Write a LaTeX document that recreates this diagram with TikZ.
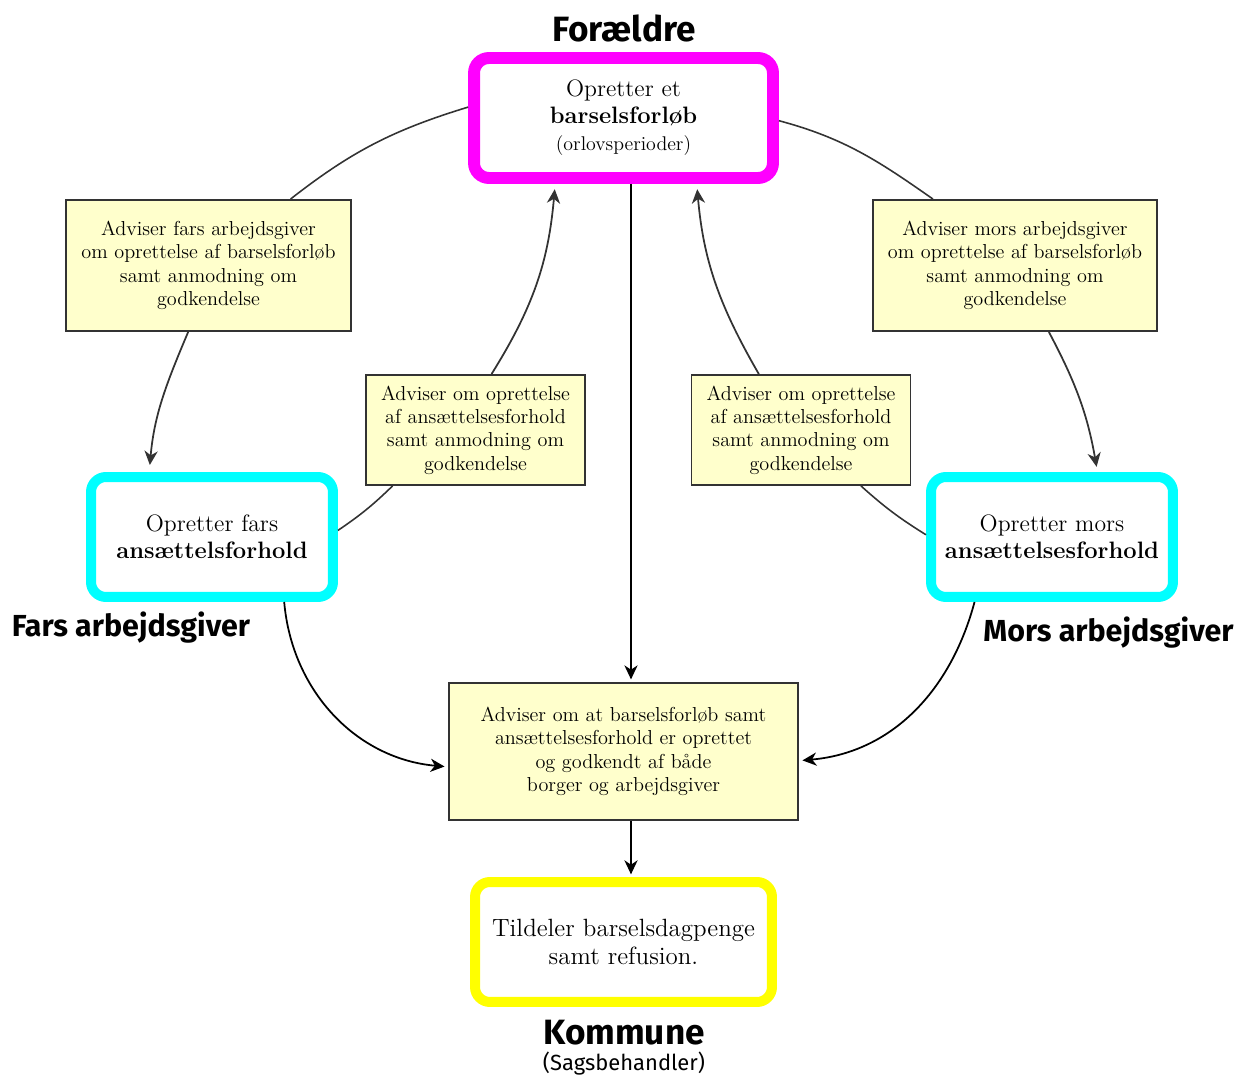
\documentclass[tikz,border=0pt]{standalone}
\usepackage{fontspec}
\newfontfamily\rolefont{Fira Sans}
\usetikzlibrary{arrows.meta,positioning}

\definecolor{notefill}{HTML}{FFFFCC}
\definecolor{notedraw}{HTML}{333333}
\definecolor{parentpink}{RGB}{255,0,255}
\definecolor{jobcyan}{RGB}{0,255,255}
\definecolor{kommuneyellow}{RGB}{255,255,0}

\tikzset{
  parentbox/.style={draw=parentpink, line width=6.8pt, rounded corners=0.3cm, minimum width=5.98cm, minimum height=2.4cm, align=center, font=\fontsize{13.5}{15.3}\selectfont},
  employerbox/.style={draw=jobcyan, line width=5.7pt, rounded corners=0.3cm, minimum width=4.84cm, minimum height=2.4cm, align=center, font=\fontsize{13.5}{15.6}\selectfont},
  kommunebox/.style={draw=kommuneyellow, line width=5.7pt, rounded corners=0.3cm, minimum width=5.94cm, minimum height=2.4cm, align=center, font=\fontsize{14.2}{15.8}\selectfont},
  notebox/.style={draw=notedraw, fill=notefill, line width=1.1pt, align=center, font=\fontsize{11.5}{13.3}\selectfont},
  rolelabel/.style={font={\rolefont\bfseries\fontsize{17.3}{20}\selectfont}},
  flow/.style={-{Stealth[length=8pt,width=7.5pt,inset=2.5pt]}, line width=1pt},
  noteline/.style={draw=notedraw, line width=0.9pt}
}

\begin{document}
\begin{tikzpicture}[x=0.02cm, y=-0.02cm]
  \useasboundingbox (0,0) rectangle (1235,1077);

  % boxes
  \node[parentbox] (plan) at (623.5,118) {Opretter et\\\textbf{barselsforløb}\\{\fontsize{11.3}{12}\selectfont(orlovsperioder)}};
  \node[employerbox] (farjob) at (212,537) {Opretter fars\\\textbf{ansættelsforhold}};
  \node[employerbox] (morjob) at (1052,537) {Opretter mors\\\textbf{ansættelsesforhold}};
  \node[kommunebox] (payout) at (623.5,942) {Tildeler barselsdagpenge\\samt refusion.};

  \node[notebox, minimum width=5.7cm, minimum height=2.62cm] (farnote) at (208.5,265.5) {Adviser fars arbejdsgiver\\om oprettelse af barselsforløb\\samt anmodning om\\godkendelse};
  \node[notebox, minimum width=5.68cm, minimum height=2.62cm] (mornote) at (1015,265.5) {Adviser mors arbejdsgiver\\om oprettelse af barselsforløb\\samt anmodning om\\godkendelse};
  \node[notebox, minimum width=4.38cm, minimum height=2.2cm] (farback) at (475.5,430) {Adviser om oprettelse\\af ansættelsesforhold\\samt anmodning om\\godkendelse};
  \node[notebox, minimum width=4.38cm, minimum height=2.2cm] (morback) at (801,430) {Adviser om oprettelse\\af ansættelsesforhold\\samt anmodning om\\godkendelse};
  \node[notebox, minimum width=6.98cm, minimum height=2.74cm] (done) at (623.5,751.5) {Adviser om at barselsforløb samt\\ansættelsesforhold er oprettet\\og godkendt af både\\borger og arbejdsgiver};

  % roles
  \node[rolelabel, font={\rolefont\bfseries\fontsize{20}{23}\selectfont}] (parents) at (624,28) {Forældre};
  \node[rolelabel] (farrole) at (131,628) {Fars arbejdsgiver};
  \node[rolelabel] (morrole) at (1108.5,633) {Mors arbejdsgiver};
  \node[rolelabel, font={\rolefont\bfseries\fontsize{20}{23}\selectfont}] (kommune) at (624,1033) {Kommune};
  \node[font={\rolefont\fontsize{12.5}{14}\selectfont}] (clerk) at (624,1064) {(Sagsbehandler)};

  % fars side
  \draw[noteline] (plan.176) to[out=197, in=38] (farnote.39);
  \draw[noteline, flow, shorten >=4pt] (farnote.253) to[out=247, in=85] (farjob.134);
  \draw[noteline] (farjob.3) to[bend right=5] (farback.214);
  \draw[noteline, flow, shorten >=3pt] (farback.74) to[out=58, in=265] (plan.224);

  % mors side
  \draw[noteline] (plan.-1.5) to[out=-15, in=145] (mornote.141);
  \draw[noteline, flow, shorten >=3pt] (mornote.-63) to[out=-62, in=100] (morjob.55);
  \draw[noteline] (morjob.179) to[bend left=5] (morback.-43);
  \draw[noteline, flow, shorten >=3pt] (morback.127) to[out=120, in=-85] (plan.-42);

  % midten
  \draw[flow, shorten >=1.5pt] ([xshift=0.15cm]plan.south) -- ([xshift=0.15cm]done.north);
  \draw[flow, shorten >=2pt] (farjob.-42) to[out=-85, in=175] (done.185);
  \draw[flow, shorten >=2pt] (morjob.220) to[out=-105, in=5] (done.-3.5);
  \draw[flow, shorten >=1.5pt] ([xshift=0.15cm]done.south) -- ([xshift=0.15cm]payout.north);
\end{tikzpicture}
\end{document}
